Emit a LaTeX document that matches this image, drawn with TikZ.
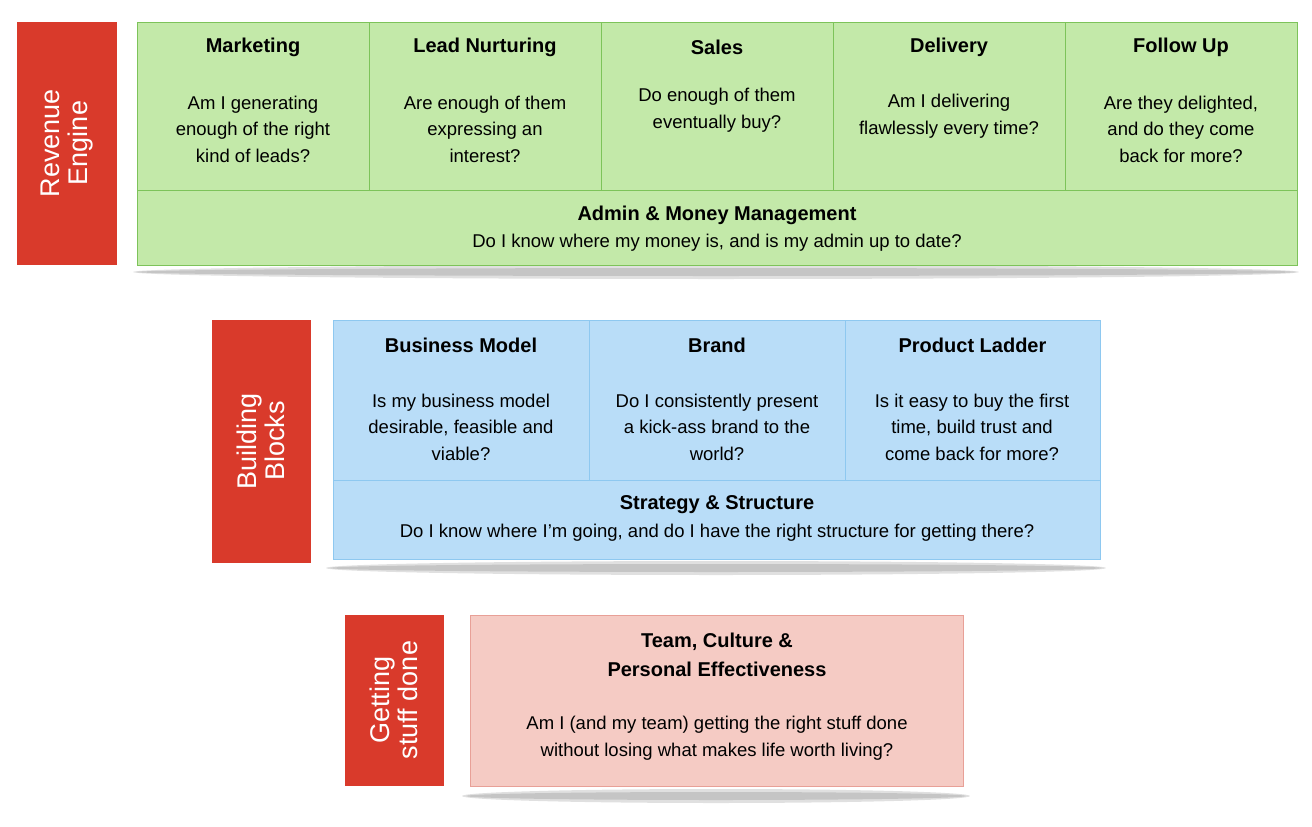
\documentclass[tikz,border=0pt]{standalone}
\usepackage{fontspec}
\setmainfont{Liberation Sans}
\begin{document}
\begin{tikzpicture}[x=1pt,y=-1pt,
  redbox/.style={fill=red!75!black!90!orange, draw=none},
  lbl/.style={text=white, font=\fontsize{27}{28}\selectfont, rotate=90, align=center},
  gcell/.style={fill=grn, draw=grnb, line width=0.8pt},
  bcell/.style={fill=blu, draw=blub, line width=0.8pt},
  pcell/.style={fill=pnk, draw=pnkb, line width=0.8pt},
  ttl/.style={font=\bfseries\fontsize{20}{22}\selectfont, align=center},
  bd/.style={font=\fontsize{18.5}{26.5}\selectfont, align=center},
  shad/.style={fill=black, opacity=0.12}]
\definecolor{rd}{HTML}{D93A2B}
\definecolor{grn}{HTML}{C3E9A9}
\definecolor{grnb}{HTML}{7DC35A}
\definecolor{blu}{HTML}{B9DDF8}
\definecolor{blub}{HTML}{8EC8F0}
\definecolor{pnk}{HTML}{F5CBC4}
\definecolor{pnkb}{HTML}{E8A097}
\useasboundingbox (0,0) rectangle (1312,827);
% shadows
\foreach \cx/\cy/\rx in {716/272/583, 716/568/390, 716/796/254}{
  \fill[shad] (\cx,\cy) ellipse ({\rx} and 7);
  \fill[shad] (\cx,\cy) ellipse ({\rx-4} and 4);
}
% red labels
\fill[rd] (17,22) rectangle (117,265);
\node[lbl] (re) at (67,143) {Revenue\\Engine};
\fill[rd] (212,320) rectangle (311,563);
\node[lbl] (bb) at (261,441) {Building\\Blocks};
\fill[rd] (345,615) rectangle (444,786);
\node[lbl] (gs) at (394,700) {Getting\\stuff done};
% green
\foreach \a/\b/\t/\d in {137/369/Marketing/{Am I generating\\enough of the right\\kind of leads?},
  369/601/Lead Nurturing/{Are enough of them\\expressing an\\interest?},
  601/833/Sales/{Do enough of them\\eventually buy?},
  833/1065/Delivery/{Am I delivering\\flawlessly every time?},
  1065/1297/Follow Up/{Are they delighted,\\and do they come\\back for more?}}{
  \draw[gcell] (\a,22) rectangle (\b,190);
  \node[ttl] at ({(\a+\b)/2},47) {\t};
}
\node[bd] (m1) at (253,129) {Am I generating\\enough of the right\\kind of leads?};
\node[bd] (m2) at (485,129) {Are enough of them\\expressing an\\interest?};
\node[bd] (m3) at (717,110) {Do enough of them\\eventually buy?};
\node[bd] (m4) at (949,116) {Am I delivering\\flawlessly every time?};
\node[bd] (m5) at (1181,129) {Are they delighted,\\and do they come\\back for more?};
\draw[gcell] (137,190) rectangle (1297,265);
\node[ttl] (adm) at (717,215) {Admin \& Money Management};
\node[bd] (admd) at (717,243) {Do I know where my money is, and is my admin up to date?};
% blue
\foreach \a/\b/\t in {333/589/Business Model, 589/845/Brand, 845/1100/Product Ladder}{
  \draw[bcell] (\a,320) rectangle (\b,480);
  \node[ttl] at ({(\a+\b)/2},345) {\t};
}
\node[bd] (b1) at (461,427) {Is my business model\\desirable, feasible and\\viable?};
\node[bd] (b2) at (717,427) {Do I consistently present\\a kick-ass brand to the\\world?};
\node[bd] (b3) at (972,427) {Is it easy to buy the first\\time, build trust and\\come back for more?};
\draw[bcell] (333,480) rectangle (1100,559);
\node[ttl] (ss) at (717,505) {Strategy \& Structure};
\node[bd] (ssd) at (717,533) {Do I know where I’m going, and do I have the right structure for getting there?};
% pink
\draw[pcell] (470,615) rectangle (963,786);
\node[ttl, font=\bfseries\fontsize{20}{29}\selectfont] (tc) at (717,655) {Team, Culture \&\\Personal Effectiveness};
\node[bd] (tcd) at (717,738) {Am I (and my team) getting the right stuff done\\without losing what makes life worth living?};
\end{tikzpicture}
\end{document}
